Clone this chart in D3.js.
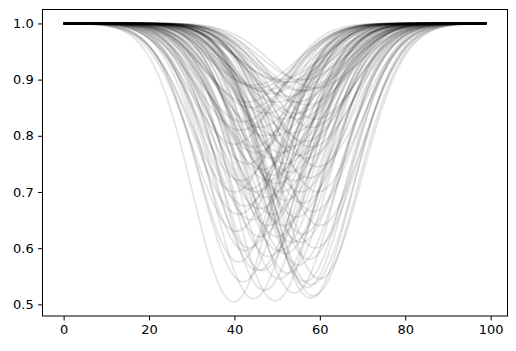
<!DOCTYPE html>
<html>
<head>
<meta charset="utf-8">
<script src="https://cdn.jsdelivr.net/npm/d3@7"></script>
<style>
  html, body { margin: 0; padding: 0; background: #fff; }
  svg { display: block; }
  text { font-family: "DejaVu Sans", sans-serif; }
</style>
</head>
<body>
<svg id="chart" width="516" height="351"></svg>
<script>
// Sample positions (x axis values)
const xValues = d3.range(0, 100);

// Per-curve dip centres (x), dip minima (y) and widths
const centers = [
  39.8, 44.5, 49.5, 57.8, 58.5, 57.0, 58.0, 56.5, 42.0, 47.0,
  45.5, 41.0, 52.5, 55.0, 60.0, 48.0, 43.5, 50.5, 53.5, 59.0,
  46.0, 40.5, 56.0, 51.5, 44.0, 49.0, 54.5, 42.5, 58.5, 47.5,
  52.0, 45.0, 55.5, 50.0, 41.5, 57.5, 53.0, 46.5, 43.0, 59.5,
  48.5, 51.0, 55.0, 44.5, 40.0, 56.5, 49.5, 53.5, 46.0, 58.0,
  42.0, 51.5, 47.5, 54.5, 44.0, 57.0, 50.0, 52.5, 48.5, 55.5,
  45.5, 59.0, 53.0, 50.5, 56.0, 41.0, 43.5, 46.5, 48.0, 50.5,
  52.0, 54.0, 55.5, 57.5, 59.5, 40.0, 42.5, 45.0, 47.0, 49.0,
  51.0, 53.0, 55.0, 57.0, 59.0, 41.5, 43.0, 46.0, 48.0, 50.0,
  52.0, 54.0, 56.0, 58.0, 60.0, 44.5, 47.0, 51.5, 54.5, 56.5
];
const minima = [
  0.504, 0.510, 0.506, 0.511, 0.515, 0.530, 0.535, 0.540, 0.540, 0.525,
  0.560, 0.575, 0.555, 0.570, 0.545, 0.585, 0.600, 0.595, 0.610, 0.600,
  0.620, 0.630, 0.625, 0.640, 0.650, 0.660, 0.655, 0.675, 0.665, 0.690,
  0.685, 0.700, 0.700, 0.715, 0.720, 0.725, 0.735, 0.740, 0.750, 0.745,
  0.760, 0.770, 0.765, 0.780, 0.785, 0.790, 0.800, 0.805, 0.815, 0.815,
  0.825, 0.830, 0.840, 0.840, 0.850, 0.855, 0.860, 0.870, 0.875, 0.880,
  0.885, 0.885, 0.895, 0.900, 0.900, 0.660, 0.705, 0.560, 0.640, 0.545,
  0.590, 0.520, 0.610, 0.580, 0.700, 0.700, 0.595, 0.770, 0.800, 0.730,
  0.700, 0.780, 0.830, 0.760, 0.830, 0.810, 0.860, 0.670, 0.720, 0.620,
  0.750, 0.720, 0.680, 0.780, 0.640, 0.890, 0.880, 0.895, 0.860, 0.880
];
const widths = [
  9.6, 9.8, 10.0, 9.9, 10.2, 9.7, 10.1, 9.8, 10.0, 9.9,
  10.3, 9.6, 9.9, 10.1, 9.8, 10.0, 9.7, 10.2, 9.9, 10.0,
  9.8, 10.1, 9.9, 10.0, 9.7, 10.2, 9.8, 10.0, 9.9, 10.1,
  9.6, 10.0, 9.8, 10.2, 9.9, 10.0, 9.7, 10.1, 9.8, 10.0,
  10.2, 9.9, 10.0, 9.8, 9.7, 10.1, 9.9, 10.0, 10.2, 9.8,
  9.9, 10.0, 9.7, 10.1, 9.8, 10.0, 10.2, 9.9, 9.8, 10.0,
  9.7, 10.1, 9.9, 10.0, 9.8, 10.2, 9.9, 10.0, 9.7, 10.1,
  9.8, 10.0, 10.2, 9.9, 9.8, 10.0, 9.7, 10.1, 9.9, 10.0,
  9.8, 10.2, 9.9, 10.0, 9.7, 10.1, 9.8, 10.0, 10.2, 9.9,
  9.8, 10.0, 9.7, 10.1, 9.9, 10.0, 9.8, 10.2, 9.9, 10.0
];

const xTicks = [0, 20, 40, 60, 80, 100];
const yTicks = [0.5, 0.6, 0.7, 0.8, 0.9, 1.0];

// Build series: Gaussian dip for each curve from its read parameters
const series = centers.map((c, i) => {
  const depth = 1 - minima[i];
  const s = widths[i];
  return xValues.map(xv => ({ x: xv, y: 1 - depth * Math.exp(-((xv - c) ** 2) / (2 * s * s)) }));
});

const svg = d3.select("#chart");
const plotL = 42.5, plotR = 507.5, plotT = 9.5, plotB = 316;

const xMin = d3.min(xValues), xMax = d3.max(xValues);
const xPad = (xMax - xMin) * 0.05;
const xScale = d3.scaleLinear().domain([xMin - xPad, xMax + xPad]).range([plotL, plotR]);

const yMinData = d3.min(series, s => d3.min(s, d => d.y));
const yMaxData = d3.max(series, s => d3.max(s, d => d.y));
const yPad = (yMaxData - yMinData) * 0.05;
const yScale = d3.scaleLinear().domain([yMinData - yPad, yMaxData + yPad]).range([plotB, plotT]);

const line = d3.line().x(d => xScale(d.x)).y(d => yScale(d.y));

const g = svg.append("g");
g.selectAll("path.curve")
  .data(series)
  .enter().append("path")
  .attr("class", "curve")
  .attr("d", line)
  .attr("fill", "none")
  .attr("stroke", "#000")
  .attr("stroke-opacity", 0.1)
  .attr("stroke-width", 1.9)
  .attr("stroke-linejoin", "round")
  .attr("stroke-linecap", "butt");

// Frame
svg.append("rect")
  .attr("x", plotL).attr("y", plotT)
  .attr("width", plotR - plotL).attr("height", plotB - plotT)
  .attr("fill", "none").attr("stroke", "#000").attr("stroke-width", 1);

const tickLen = 4.4, tickPad = 4.4;

const xAxis = d3.axisBottom(xScale).tickValues(xTicks).tickFormat(d3.format("d"))
  .tickSize(tickLen).tickPadding(tickPad).tickSizeOuter(0);
const gx = svg.append("g").attr("transform", `translate(0,${plotB})`).call(xAxis);
gx.select(".domain").remove();
gx.selectAll("line").attr("stroke", "#000").attr("stroke-width", 1);
gx.selectAll("text").attr("font-size", 13).attr("fill", "#000")
  .attr("font-family", "DejaVu Sans, sans-serif");

const yAxis = d3.axisLeft(yScale).tickValues(yTicks).tickFormat(d3.format(".1f"))
  .tickSize(tickLen).tickPadding(tickPad).tickSizeOuter(0);
const gy = svg.append("g").attr("transform", `translate(${plotL},0)`).call(yAxis);
gy.select(".domain").remove();
gy.selectAll("line").attr("stroke", "#000").attr("stroke-width", 1);
gy.selectAll("text").attr("font-size", 13).attr("fill", "#000")
  .attr("font-family", "DejaVu Sans, sans-serif");
</script>
</body>
</html>
